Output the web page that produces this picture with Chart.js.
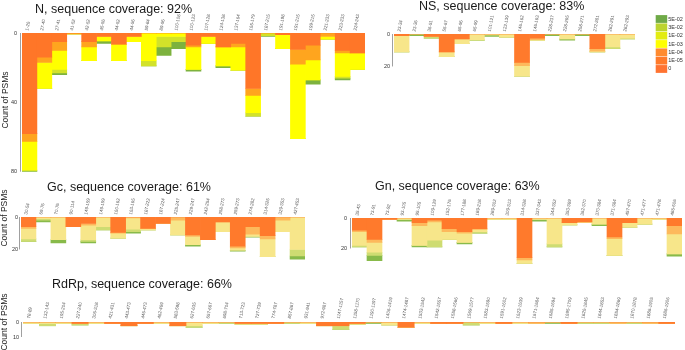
<!DOCTYPE html>
<html>
<head>
<meta charset="utf-8">
<script src="https://cdn.jsdelivr.net/npm/chart.js@4.4.1/dist/chart.umd.min.js"></script>
<style>
  body { margin: 0; background: #fff; width: 685px; height: 350px; overflow: hidden; position: relative; }
  canvas { position: absolute; }
</style>
</head>
<body>
<canvas id="cN" width="370" height="180" style="left:0;top:0"></canvas>
<canvas id="cNS" width="305" height="90" style="left:380px;top:0"></canvas>
<canvas id="cGc" width="310" height="92" style="left:0;top:180px"></canvas>
<canvas id="cGn" width="345" height="92" style="left:340px;top:180px"></canvas>
<canvas id="cRdRp" width="685" height="80" style="left:0;top:270px"></canvas>
<script>
// segments of every bar, top (0) to bottom: orange, light orange, yellow, yellow-green, green
const SEGMENTS = ["0", "1E-04", "1E-03", "1E-02", "5E-02"];

const N_LABELS = ["1-26","27-40","27-41","41-52","42-52","45-56","44-52","44-56","59-84","89-96","100-108","100-123","107-128","124-138","137-164","165-179","187-215","191-198","191-215","199-215","221-233","223-233","224-243"];
const N_ORANGE = [58, 14, 5, 0, 5, 2, 6.5, 2, 0, 0, 0, 7, 2, 8, 6, 32, 0, 1, 9.5, 7, 0, 10, 11.5];
const N_LORANGE = [4.5, 3, 5, 0.5, 3, 0, 0, 0, 0, 0, 0, 1, 0, 0, 2, 4, 0, 0, 8.5, 8.5, 2, 1.5, 0];
const N_YELLOW = [16.5, 15, 11, 0, 8, 2.5, 9.5, 3, 16, 2, 2, 13, 4, 11, 13.5, 10, 0, 8, 43, 11.5, 1.5, 13.5, 9.5];
const N_YGREEN = [0.5, 0, 2, 0, 0, 0, 0, 0, 3, 6, 3, 0, 0, 0, 0, 2, 1.5, 0, 0, 0, 0, 1, 0];
const N_GREEN = [0.5, 0, 1, 0, 0, 1.5, 0, 0, 0, 5, 4, 1, 0, 1, 0, 0, 0.5, 0, 0, 2.5, 0, 1, 0];

const NS_LABELS = ["23-34","23-36","36-51","55-67","65-96","65-99","101-121","122-139","146-162","146-163","228-237","228-265","268-271","272-281","282-291","282-293"];
const NS_ORANGE = [1, 0, 1.5, 11, 3, 0, 0, 0, 17.5, 2.5, 0, 0, 0, 9, 0, 0];
const NS_LORANGE = [0, 0, 0, 0, 0, 0, 0, 0, 2, 1, 0, 0, 0, 1.5, 0, 0];
const NS_YELLOW = [10, 0, 0, 3, 3, 3.5, 0.5, 2, 6.5, 0.5, 0, 3, 0, 0.5, 8, 2.5];
const NS_YGREEN = [0, 0, 1, 0, 0, 0.5, 0, 0, 0, 0, 0, 0, 0, 0, 1, 0.5];
const NS_GREEN = [0, 1, 0, 0, 0, 0, 1, 0, 0, 0, 1, 0.8, 1, 0, 0, 0];

const GC_LABELS = ["30-54","69-76","70-76","90-114","149-159","149-159","160-162","163-165","187-222","187-224","225-247","229-247","242-254","258-273","259-273","274-282","314-325","329-353","427-453"];
const GC_ORANGE = [6, 0, 0, 6, 4, 0, 9.5, 0, 7, 4, 0, 11, 14, 3, 18, 6, 11.5, 0, 0];
const GC_LORANGE = [1, 0, 0, 0, 1, 0, 0.5, 0.5, 0, 0, 2, 1, 0, 0, 1, 4.5, 2, 2, 0];
const GC_YELLOW = [6.5, 1, 14, 0, 9, 6, 3, 7, 1, 0, 9, 5, 0, 6, 1.5, 1.5, 11, 7, 20];
const GC_YGREEN = [1.5, 1, 0, 0, 1, 2, 0, 1.5, 0, 0, 0, 0, 0, 0, 0, 0, 0, 0, 4];
const GC_GREEN = [0, 1, 2, 0, 1, 0, 0, 1, 0, 0, 0, 1, 0, 0, 0.5, 0.5, 0, 0, 2];

const GN_LABELS = ["35-43","73-91","73-92","93-105","95-105","109-129","152-176","177-188","189-218","289-302","309-313","314-328","337-343","344-352","353-369","362-370","370-384","371-384","457-470","471-477","471-478","486-506"];
const GN_ORANGE = [8, 14, 1, 0, 3, 1.5, 7, 9, 7, 0, 0, 26, 0, 0, 3, 2.5, 0, 12.5, 3, 0, 0, 5];
const GN_LORANGE = [1, 2, 0, 0, 2, 1, 2, 1, 0.5, 0, 0, 1.5, 0, 0, 0, 0, 0, 1, 0, 0, 0, 5.5];
const GN_YELLOW = [9, 6.5, 0, 1, 13, 12, 5, 6, 1.5, 1, 1, 2.5, 1, 17, 1.5, 0.5, 4, 11, 3, 4, 1, 13];
const GN_YGREEN = [1, 2, 0, 0, 0, 4.5, 0, 0, 1, 0, 0, 0, 0, 2, 0, 0, 0, 0, 0, 0, 0, 0];
const GN_GREEN = [0, 3.5, 0, 1, 1, 0, 0, 1, 0, 0, 0, 0, 1, 0, 0, 0, 1, 0, 0, 0, 0, 1.5];

const RDRP_LABELS = ["78-89","132-143","195-204","227-240","306-318","421-431","443-473","446-473","462-469","583-598","627-635","657-667","698-704","713-723","727-739","774-787","857-867","931-941","972-987","1147-1157","1158-1170","1190-1197","1406-1419","1474-1487","1533-1542","1542-1557","1558-1566","1569-1577","1583-1590","1591-1602","1623-1639","1671-1684","1685-1694","1695-1709","1826-1845","1844-1853","1854-1869","1870-1878","1886-1905","1886-1906"];
const RDRP_ORANGE = [0, 0, 0, 1, 0, 1, 2.5, 1, 0, 2.5, 0, 0, 0, 1, 1, 1, 0, 0, 2.5, 2.5, 1, 0, 0, 3.5, 0, 1, 1, 0, 0, 1, 0, 0, 0, 1, 0, 0, 0, 0, 0, 1];
const RDRP_LORANGE = [0, 0, 0, 0, 0, 0, 0, 0, 0, 0, 0, 0, 0, 0, 0, 0, 0, 0, 0, 0, 0, 0, 0, 0, 0, 0, 0, 0, 0, 0, 0, 1, 0, 0, 0, 0, 1, 0, 1, 0];
const RDRP_YELLOW = [1, 1, 1, 0, 1, 0, 0, 0, 1, 0, 2.5, 1, 0, 0.5, 0.5, 0, 0, 1, 0, 0, 0.5, 0, 2, 0, 1, 0, 0, 0, 1, 0, 1, 0, 0, 0, 0, 0, 0, 0, 0, 0];
const RDRP_YGREEN = [0, 1.5, 0, 1, 0, 0, 0, 0, 0, 0, 1, 0, 1, 0, 0, 0, 1, 0, 0, 2.5, 0, 0, 0, 0, 0, 0, 0, 2, 0, 0, 0, 0, 0, 0, 1, 1, 0, 1, 0, 0];
const RDRP_GREEN = [0, 0, 0, 0, 0, 0, 0, 0, 0, 0, 0, 0, 0, 0, 0, 0, 0, 0, 0, 0, 0, 1, 0, 0, 0, 0, 0, 0, 0, 0, 0, 0, 1, 0, 0, 0, 0, 0, 0, 0];

const LEGEND_LABELS = ["5E-02", "3E-02", "1E-02", "1E-03", "1E-04", "1E-05", "0"];

// colours
const BRIGHT = ["#ff7628", "#ffa51e", "#ffff00", "#d2e22a", "#7db23e"];
const PALE = ["#ff7a2c", "#fdb95c", "#f7e68a", "#cedc72", "#88ba4a"];
const LEGEND_COLORS = ["#6faa48", "#bcd430", "#e3ec12", "#ffff00", "#ff8a2e", "#ff7a2a", "#ff7331"];

Chart.defaults.font.family = '"Liberation Sans", Arial, sans-serif';

const decor = {
  id: "decor",
  afterDraw(chart, args, o) {
    const { ctx, chartArea, scales: { y } } = chart;
    ctx.save();
    // y axis line, capped at the last labelled tick
    ctx.strokeStyle = "#a0a0a0";
    ctx.lineWidth = 1;
    const ax = Math.round(chartArea.left) - 1.5;
    ctx.beginPath();
    ctx.moveTo(ax, y.getPixelForValue(0));
    ctx.lineTo(ax, y.getPixelForValue(o.axisMax));
    ctx.stroke();

    ctx.fillStyle = "#1a1a1a";
    ctx.font = '12.5px "Liberation Sans", Arial, sans-serif';
    ctx.textAlign = "left";
    ctx.textBaseline = "alphabetic";
    ctx.fillText(o.title, o.titleX, o.titleY);

    if (o.yTitle) {
      ctx.save();
      ctx.translate(o.yTitle[0], o.yTitle[1]);
      ctx.rotate(-Math.PI / 2);
      ctx.font = '8.5px "Liberation Sans", Arial, sans-serif';
      ctx.textAlign = "center";
      ctx.textBaseline = "middle";
      ctx.fillStyle = "#222";
      ctx.fillText("Count of PSMs", 0, 0);
      ctx.restore();
    }

    if (o.legend) {
      const [lx, ly] = o.legend;
      ctx.font = '5.5px "Liberation Sans", Arial, sans-serif';
      ctx.textBaseline = "middle";
      LEGEND_LABELS.forEach((lab, i) => {
        const cy = ly + i * 8.33;
        ctx.fillStyle = LEGEND_COLORS[i];
        ctx.fillRect(lx, cy - 3.9, 11.5, 7.8);
        ctx.fillStyle = "#333";
        ctx.fillText(lab, lx + 12.5, cy);
      });
    }
    ctx.restore();
  },
};

function panel(id, labels, series, colors, p) {
  const datasets = SEGMENTS.map((name, i) => ({
    label: name,
    data: series[i],
    backgroundColor: colors[i],
    borderWidth: 0,
    barPercentage: 1,
    categoryPercentage: 1,
  }));
  new Chart(document.getElementById(id), {
    type: "bar",
    data: { labels: labels, datasets: datasets },
    options: {
      responsive: false,
      animation: false,
      layout: { padding: { left: 0, top: 0, right: p.padR, bottom: p.padB } },
      plugins: {
        legend: { display: false },
        tooltip: { enabled: false },
        decor: p.decor,
      },
      scales: {
        x: {
          position: "top",
          stacked: true,
          grid: { display: false, drawTicks: false },
          border: { display: false },
          ticks: {
            autoSkip: false,
            minRotation: 80,
            maxRotation: 80,
            padding: p.xPad,
            labelOffset: p.labelOffset,
            color: "#555",
            font: { size: 4.5 },
          },
          afterFit: (s) => { s.height = p.xH; },
        },
        y: {
          stacked: true,
          reverse: true,
          min: 0,
          max: p.yMax,
          grid: { display: false, drawTicks: false },
          border: { display: false },
          ticks: {
            stepSize: p.step,
            includeBounds: false,
            padding: p.yPad,
            color: "#333",
            font: { size: 5.5 },
            callback: (v) => (v <= p.decor.axisMax ? v : ""),
          },
          afterFit: (s) => { s.width = p.yW; },
        },
      },
    },
    plugins: [decor],
  });
}

panel("cN", N_LABELS, [N_ORANGE, N_LORANGE, N_YELLOW, N_YGREEN, N_GREEN], BRIGHT, {
  yW: 22, xH: 33, yMax: 80, step: 40, padR: 5, padB: 6, xPad: 2, yPad: 5, labelOffset: 3,
  decor: { axisMax: 80, title: "N, sequence coverage: 92%", titleX: 35, titleY: 13, yTitle: [5.5, 100] },
});
panel("cNS", NS_LABELS, [NS_ORANGE, NS_LORANGE, NS_YELLOW, NS_YGREEN, NS_GREEN], PALE, {
  yW: 14, xH: 34, yMax: 30, step: 20, padR: 50, padB: 2, xPad: 2, yPad: 4, labelOffset: 3,
  decor: { axisMax: 20, title: "NS, sequence coverage: 83%", titleX: 39, titleY: 9.5, legend: [275.7, 19] },
});
panel("cGc", GC_LABELS, [GC_ORANGE, GC_LORANGE, GC_YELLOW, GC_YGREEN, GC_GREEN], PALE, {
  yW: 21, xH: 37, yMax: 30, step: 20, padR: 5, padB: 1, xPad: 2, yPad: 3, labelOffset: 3,
  decor: { axisMax: 20, title: "Gc, sequence coverage: 61%", titleX: 47, titleY: 10.5, yTitle: [5, 38] },
});
panel("cGn", GN_LABELS, [GN_ORANGE, GN_LORANGE, GN_YELLOW, GN_YGREEN, GN_GREEN], PALE, {
  yW: 12, xH: 38, yMax: 30, step: 20, padR: 3, padB: 0, xPad: 2, yPad: 5, labelOffset: 3,
  decor: { axisMax: 20, title: "Gn, sequence coverage: 63%", titleX: 35, titleY: 9.5 },
});
panel("cRdRp", RDRP_LABELS, [RDRP_ORANGE, RDRP_LORANGE, RDRP_YELLOW, RDRP_YGREEN, RDRP_GREEN], PALE, {
  yW: 23, xH: 52, yMax: 10, step: 10, padR: 10, padB: 13, xPad: 3, yPad: 4, labelOffset: 3,
  decor: { axisMax: 10, title: "RdRp, sequence coverage: 66%", titleX: 52, titleY: 18, yTitle: [5, 52] },
});
</script>
</body>
</html>
